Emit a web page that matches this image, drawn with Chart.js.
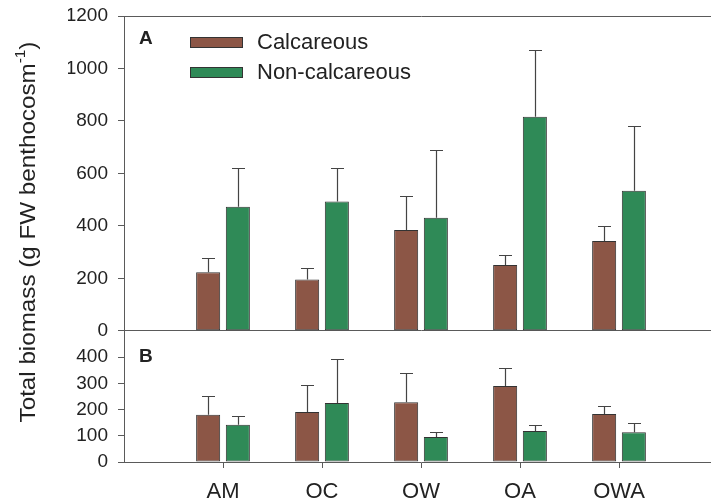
<!DOCTYPE html>
<html lang="en">
<head>
<meta charset="UTF-8">
<title>Total biomass</title>
<script src="https://cdn.jsdelivr.net/npm/chart.js@4.4.0/dist/chart.umd.min.js"></script>
<style>
  html, body { margin: 0; padding: 0; background: #fff; overflow: hidden; width: 711px; height: 503px; }
  /* canvas sits a little above the page so the plot box starts near the top edge */
  canvas { display: block; position: absolute; left: 0; top: -6px; }
</style>
</head>
<body>
<canvas id="biomassChart" width="730" height="509"></canvas>
<script>
  // treatments on the x axis
  var treatments = ['AM', 'OC', 'OW', 'OA', 'OWA'];

  // panel A: means and +SD
  var calcA = [223, 196, 384, 251, 342];
  var calcA_sd = [55, 43, 131, 39, 57];
  var nonCalcA = [473, 493, 431, 816, 534];
  var nonCalcA_sd = [149, 129, 258, 253, 248];

  // panel B: means and +SD
  var calcB = [180, 191, 228, 290, 183];
  var calcB_sd = [73, 104, 113, 69, 29];
  var nonCalcB = [142, 225, 95, 118, 113];
  var nonCalcB_sd = [34, 169, 21, 24, 35];

  var maxA = 1200, maxB = 500;

  var brown = '#8c5646';
  var green = '#2f8a57';
  var axisColor = '#5a5a5a';
  var textColor = '#222';
  var fontFamily = '"Liberation Sans", Arial, sans-serif';

  // an empty slot on each side of the treatments
  var labels = [''].concat(treatments, ['']);
  function pad(arr) { return [null].concat(arr, [null]); }

  function barSet(label, data, sd, color, axis, stack) {
    return {
      label: label,
      data: pad(data),
      errors: pad(sd),
      yAxisID: axis,
      stack: stack,
      backgroundColor: color,
      borderColor: '#333',
      borderWidth: 1,
      borderSkipped: false,
      barPercentage: 0.81,
      categoryPercentage: 0.6
    };
  }

  /* error bars (upper only) */
  var errorBars = {
    id: 'errorBars',
    afterDatasetsDraw: function (chart) {
      var ctx = chart.ctx;
      ctx.save();
      ctx.strokeStyle = '#444';
      ctx.lineWidth = 1.2;
      chart.data.datasets.forEach(function (ds, di) {
        var meta = chart.getDatasetMeta(di);
        var scale = chart.scales[meta.yAxisID];
        meta.data.forEach(function (bar, i) {
          var v = ds.data[i];
          if (v === null) return;
          var x = Math.round(bar.x) + 0.5;
          var yTop = Math.round(scale.getPixelForValue(v + ds.errors[i])) + 0.5;
          ctx.beginPath();
          ctx.moveTo(x, bar.y);
          ctx.lineTo(x, yTop);
          ctx.moveTo(x - 6.5, yTop);
          ctx.lineTo(x + 6.5, yTop);
          ctx.stroke();
        });
      });
      ctx.restore();
    }
  };

  /* axis title, panel letters and legend */
  var decorations = {
    id: 'decorations',
    afterDraw: function (chart) {
      var ctx = chart.ctx;
      var area = chart.chartArea;
      ctx.save();
      ctx.fillStyle = textColor;

      // panel letters
      ctx.font = 'bold 19px ' + fontFamily;
      ctx.textAlign = 'left';
      ctx.textBaseline = 'middle';
      ctx.fillText('A', area.left + 15, chart.scales.yA.getPixelForValue(1115));
      ctx.fillText('B', area.left + 15, chart.scales.yB.getPixelForValue(400));

      // legend
      var items = [chart.data.datasets[0], chart.data.datasets[1]];
      items.forEach(function (ds, k) {
        var x = area.left + 66;
        var y = area.top + 21 + k * 30;
        ctx.fillStyle = ds.backgroundColor;
        ctx.fillRect(x, y, 53, 11);
        ctx.strokeStyle = '#333';
        ctx.lineWidth = 1;
        ctx.strokeRect(x + 0.5, y + 0.5, 52, 10);
        ctx.fillStyle = textColor;
        ctx.font = '22px ' + fontFamily;
        ctx.fillText(ds.label, x + 67, y + 6);
      });

      // rotated y title with superscript
      ctx.translate(area.left - 95, area.top + 216);
      ctx.rotate(-Math.PI / 2);
      ctx.scale(1.1, 1);
      var main = 'Total biomass (g FW benthocosm';
      var sup = '-1';
      var tail = ')';
      var big = '22px ' + fontFamily;
      var small = '14px ' + fontFamily;
      ctx.font = big;
      var w1 = ctx.measureText(main).width;
      var w3 = ctx.measureText(tail).width;
      ctx.font = small;
      var w2 = ctx.measureText(sup).width;
      var x0 = -(w1 + w2 + w3) / 2;
      ctx.textBaseline = 'middle';
      ctx.font = big;
      ctx.fillText(main, x0, 0);
      ctx.font = small;
      ctx.fillText(sup, x0 + w1, -8);
      ctx.font = big;
      ctx.fillText(tail, x0 + w1 + w2, 0);
      ctx.restore();
    }
  };

  var ctx = document.getElementById('biomassChart').getContext('2d');
  var myChart = new Chart(ctx, {
    type: 'bar',
    data: {
      labels: labels,
      datasets: [
        barSet('Calcareous', calcA, calcA_sd, brown, 'yA', 'calc'),
        barSet('Non-calcareous', nonCalcA, nonCalcA_sd, green, 'yA', 'non'),
        barSet('Calcareous', calcB, calcB_sd, brown, 'yB', 'calc'),
        barSet('Non-calcareous', nonCalcB, nonCalcB_sd, green, 'yB', 'non')
      ]
    },
    options: {
      responsive: false,
      animation: false,
      layout: { padding: { top: 22, left: 68, right: 12, bottom: 0 } },
      plugins: {
        legend: { display: false },
        tooltip: { enabled: false }
      },
      scales: {
        x: {
          type: 'category',
          offset: false,
          border: { display: true, color: axisColor, width: 1 },
          grid: {
            offset: false,
            drawOnChartArea: false,
            tickLength: 6,
            tickColor: function (c) { return c.tick && c.tick.label ? axisColor : 'rgba(0,0,0,0)'; }
          },
          ticks: {
            autoSkip: false,
            maxRotation: 0,
            padding: 11,
            color: textColor,
            font: { family: fontFamily, size: 22 }
          },
          afterFit: function (s) { s.height = 41; }
        },
        yB: {
          type: 'linear',
          position: 'left',
          stack: 'panels',
          stackWeight: maxB,
          min: 0,
          max: maxB,
          stacked: false,
          border: { display: true, color: axisColor, width: 1 },
          grid: { drawOnChartArea: false, tickLength: 6, tickColor: axisColor },
          ticks: {
            stepSize: 100,
            autoSkip: false,
            padding: 10,
            color: textColor,
            font: { family: fontFamily, size: 19 },
            callback: function (v) { return v === maxB ? '' : String(v); }
          },
          afterFit: function (s) { s.width = 56; }
        },
        yA: {
          type: 'linear',
          position: 'left',
          stack: 'panels',
          stackWeight: maxA,
          min: 0,
          max: maxA,
          stacked: false,
          border: { display: true, color: axisColor, width: 1 },
          grid: {
            tickLength: 6,
            tickColor: axisColor,
            color: function (c) {
              return c.tick && (c.tick.value === 0 || c.tick.value === maxA) ? axisColor : 'rgba(0,0,0,0)';
            }
          },
          ticks: {
            stepSize: 200,
            autoSkip: false,
            padding: 10,
            color: textColor,
            font: { family: fontFamily, size: 19 },
            callback: function (v) { return String(v); }
          },
          afterFit: function (s) { s.width = 56; }
        }
      }
    },
    plugins: [errorBars, decorations]
  });
</script>
</body>
</html>
